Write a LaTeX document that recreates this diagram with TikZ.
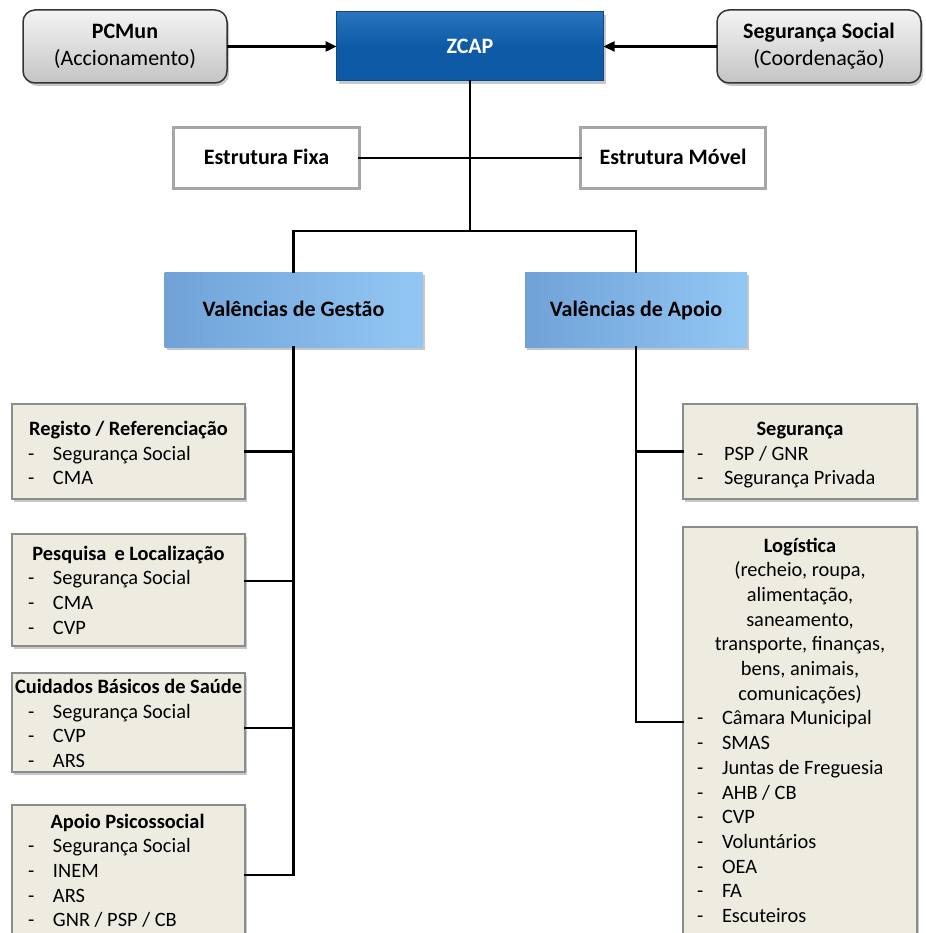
\documentclass[tikz,border=0pt]{standalone}
\usepackage{fontspec}
\setmainfont{Carlito}
\usetikzlibrary{arrows.meta,shadows}

\definecolor{zblue}{HTML}{0E5AA6}
\definecolor{zblueTop}{HTML}{2A74BE}
\definecolor{zblueEdge}{HTML}{0A4886}
\definecolor{vLight}{HTML}{93C7F3}
\definecolor{vDark}{HTML}{70A2D8}
\definecolor{tanFill}{HTML}{EEECE1}
\definecolor{tanEdge}{HTML}{8C8C8C}
\definecolor{greyTop}{HTML}{F4F4F4}
\definecolor{greyBot}{HTML}{C4C4C4}

\tikzset{
  every node/.style={inner sep=0pt, outer sep=0pt},
  headfont/.style={font=\fontsize{22}{27}\selectfont},
  bodyfont/.style={font=\fontsize{20.4}{24.7}\selectfont},
  fixdepth/.style={text height=16pt, text depth=2pt},
  softshadow/.style={drop shadow={shadow xshift=2pt, shadow yshift=-3pt, opacity=0.3, fill=black!70}},
  sidebox/.style={headfont, align=center, rounded corners=12pt, draw=black!80, line width=1.5pt,
    top color=greyTop, bottom color=greyBot, softshadow},
  mainbox/.style={headfont, fixdepth, text=white, draw=zblueEdge, line width=1pt,
    top color=zblueTop, bottom color=zblue, middle color=zblue, softshadow},
  framebox/.style={headfont, fixdepth, draw=black!35, line width=2.5pt, fill=white},
  valbox/.style={headfont, fixdepth, draw=none, left color=vDark, right color=vLight, softshadow},
  listbox/.style={draw=tanEdge, line width=1.3pt, fill=tanFill, softshadow, anchor=north west},
  conn/.style={line width=2.4pt, line cap=rect},
  arr/.style={line width=2.4pt, -{Triangle[length=11pt,width=10pt]}},
  ttl/.style={font=\fontsize{20.4}{24.7}\selectfont\bfseries, anchor=base},
  itm/.style={bodyfont, anchor=base west},
  ctr/.style={bodyfont, anchor=base},
}
\newcommand{\dashitem}[1]{\makebox[25pt][l]{-}#1}
\newcommand{\dashitemR}[1]{\makebox[27pt][l]{-}#1}

\begin{document}
\begin{tikzpicture}[x=1pt,y=-1pt]
\useasboundingbox (0,0) rectangle (925,933);
\clip (0,0) rectangle (925,933);
\fill[white] (0,0) rectangle (925,933);

% top row
\node[sidebox, minimum width=204, minimum height=73] (pcmun) at (125,46.5)
  {\textbf{PCMun}\\(Accionamento)};
\node[mainbox, minimum width=267, minimum height=69] (zcap) at (470,46.5) {\textbf{ZCAP}};
\node[sidebox, minimum width=204, minimum height=73] (segsoc) at (819,46.5)
  {\textbf{Segurança Social}\\(Coordenação)};

\draw[arr] (pcmun.east) -- (zcap.west);
\draw[arr] (segsoc.west) -- (zcap.east);

% fixed / mobile structure
\node[framebox, minimum width=186, minimum height=61] (fixa) at (266.5,158) {\textbf{Estrutura Fixa}};
\node[framebox, minimum width=185, minimum height=61] (movel) at (673,158) {\textbf{Estrutura Móvel}};

% valences
\node[valbox, minimum width=258, minimum height=75] (gestao) at (293.5,309.5) {\textbf{Valências de Gestão}};
\node[valbox, minimum width=222, minimum height=75] (apoio) at (636,309.5) {\textbf{Valências de Apoio}};

\coordinate (bar) at (470,231);
\draw[conn] (fixa.east) -- (movel.west);
\draw[conn] (zcap.south) -- (bar);
\draw[conn] (gestao.north) -- (gestao.north |- bar) -- (apoio.north |- bar) -- (apoio.north);

% management boxes
\node[listbox, minimum width=233, minimum height=95] (reg) at (12,404) {};
\node[listbox, minimum width=233, minimum height=112] (pesq) at (12,534) {};
\node[listbox, minimum width=233, minimum height=99] (cuid) at (12,673) {};
\node[listbox, minimum width=233, minimum height=140] (apsi) at (12,805) {};

\node[ttl] (regT) at (128.5,435) {Registo / Referenciação};
\node[itm] (reg1) at (28,460) {\dashitem{Segurança Social}};
\node[itm] (reg2) at (28,484.7) {\dashitem{CMA}};

\node[ttl] (pesqT) at (128.5,560) {Pesquisa\, e Localização};
\node[itm] (pesq1) at (28,584.7) {\dashitem{Segurança Social}};
\node[itm] (pesq2) at (28,609.4) {\dashitem{CMA}};
\node[itm] (pesq3) at (28,634.1) {\dashitem{CVP}};

\node[ttl] (cuidT) at (128.5,693.5) {Cuidados Básicos de Saúde};
\node[itm] (cuid1) at (28,718.2) {\dashitem{Segurança Social}};
\node[itm] (cuid2) at (28,742.9) {\dashitem{CVP}};
\node[itm] (cuid3) at (28,767.6) {\dashitem{ARS}};

\node[ttl] (apsiT) at (127.5,828) {Apoio Psicossocial};
\node[itm] (apsi1) at (28,852.7) {\dashitem{Segurança Social}};
\node[itm] (apsi2) at (28,877.4) {\dashitem{INEM}};
\node[itm] (apsi3) at (28,902.1) {\dashitem{ARS}};
\node[itm] (apsi4) at (28,926.8) {\dashitem{GNR / PSP / CB}};

\coordinate (pesqJ) at (245,581);
\coordinate (cuidJ) at (245,728);
\draw[conn] (gestao.south) -- (gestao.south |- apsi.east) -- (apsi.east);
\draw[conn] (reg.east) -- (reg.east -| gestao.south);
\draw[conn] (pesqJ) -- (pesqJ -| gestao.south);
\draw[conn] (cuidJ) -- (cuidJ -| gestao.south);

% support boxes
\node[listbox, minimum width=234, minimum height=95] (seg) at (683,404) {};
\node[listbox, minimum width=234, minimum height=430] (logi) at (683,527) {};

\node[ttl] (segT) at (800,435) {Segurança};
\node[itm] (seg1) at (697,460) {\dashitemR{PSP / GNR}};
\node[itm] (seg2) at (697,484.7) {\dashitemR{Segurança Privada}};

\node[ttl] (logT) at (800,552) {Logística};
\node[ctr] (logA) at (800,576.7) {(recheio, roupa,};
\node[ctr] (logB) at (800,601.4) {alimentação,};
\node[ctr] (logC) at (800,626.1) {saneamento,};
\node[ctr] (logD) at (800,650.8) {transporte, finanças,};
\node[ctr] (logE) at (800,675.5) {bens, animais,};
\node[ctr] (logF) at (800,700.2) {comunicações)};
\node[itm] (log1) at (697,724.9) {\dashitem{Câmara Municipal}};
\node[itm] (log2) at (697,749.6) {\dashitem{SMAS}};
\node[itm] (log3) at (697,774.3) {\dashitem{Juntas de Freguesia}};
\node[itm] (log4) at (697,799.0) {\dashitem{AHB / CB}};
\node[itm] (log5) at (697,823.7) {\dashitem{CVP}};
\node[itm] (log6) at (697,848.4) {\dashitem{Voluntários}};
\node[itm] (log7) at (697,873.1) {\dashitem{OEA}};
\node[itm] (log8) at (697,897.8) {\dashitem{FA}};
\node[itm] (log9) at (697,922.5) {\dashitem{Escuteiros}};

\coordinate (logJ) at (683,722);
\draw[conn] (apoio.south) -- (apoio.south |- logJ) -- (logJ);
\draw[conn] (seg.west) -- (seg.west -| apoio.south);
\end{tikzpicture}
\end{document}
